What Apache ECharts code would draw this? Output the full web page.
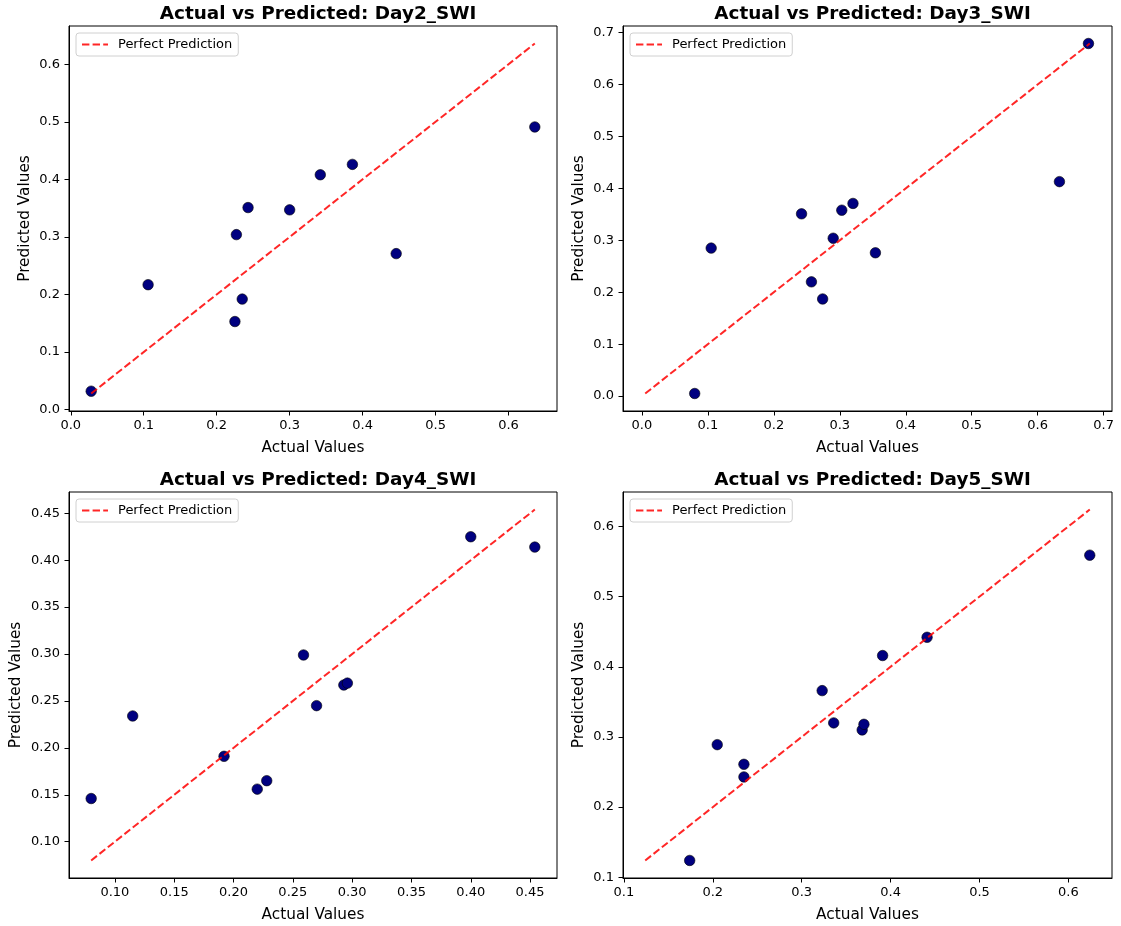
<!DOCTYPE html>
<html>
<head>
<meta charset="utf-8">
<script src="https://cdn.jsdelivr.net/npm/echarts@6/dist/echarts.min.js"></script>
<style>
html,body{margin:0;padding:0;background:#fff;}
#chart{width:1121px;height:926px;}
</style>
</head>
<body>
<div id="chart"></div>
<script>
// ---------- data ----------
const panelTitles = [
  'Actual vs Predicted: Day2_SWI',
  'Actual vs Predicted: Day3_SWI',
  'Actual vs Predicted: Day4_SWI',
  'Actual vs Predicted: Day5_SWI'
];
const legendLabel = 'Perfect Prediction';
const xAxisName = 'Actual Values';
const yAxisName = 'Predicted Values';

const day2Actual    = [0.028, 0.106, 0.225, 0.235, 0.227, 0.243, 0.300, 0.342, 0.386, 0.446, 0.636];
const day2Predicted = [0.032, 0.217, 0.153, 0.192, 0.304, 0.351, 0.347, 0.408, 0.426, 0.271, 0.491];

const day3Actual    = [0.080, 0.105, 0.242, 0.257, 0.274, 0.290, 0.303, 0.320, 0.354, 0.633, 0.677];
const day3Predicted = [0.005, 0.285, 0.351, 0.220, 0.187, 0.304, 0.358, 0.371, 0.276, 0.413, 0.679];

const day4Actual    = [0.080, 0.115, 0.192, 0.220, 0.228, 0.259, 0.270, 0.293, 0.296, 0.400, 0.454];
const day4Predicted = [0.146, 0.234, 0.191, 0.156, 0.165, 0.299, 0.245, 0.267, 0.269, 0.425, 0.414];

const day5Actual    = [0.174, 0.205, 0.235, 0.235, 0.323, 0.336, 0.368, 0.370, 0.391, 0.441, 0.624];
const day5Predicted = [0.124, 0.289, 0.261, 0.243, 0.366, 0.320, 0.310, 0.318, 0.416, 0.442, 0.559];

const day2Ticks = ['0.0', '0.1', '0.2', '0.3', '0.4', '0.5', '0.6'];
const day3Ticks = ['0.0', '0.1', '0.2', '0.3', '0.4', '0.5', '0.6', '0.7'];
const day4Ticks = ['0.10', '0.15', '0.20', '0.25', '0.30', '0.35', '0.40', '0.45'];
const day5Ticks = ['0.1', '0.2', '0.3', '0.4', '0.5', '0.6'];

// ---------- layout / style ----------
const FONT = 'DejaVu Sans';
const panels = [
  {actual: day2Actual, pred: day2Predicted, ticks: day2Ticks, grid: {left: 69,  top: 26,  width: 488, height: 385}, yGap: 36},
  {actual: day3Actual, pred: day3Predicted, ticks: day3Ticks, grid: {left: 623, top: 26,  width: 489, height: 385}, yGap: 36},
  {actual: day4Actual, pred: day4Predicted, ticks: day4Ticks, grid: {left: 69,  top: 492, width: 488, height: 386}, yGap: 45},
  {actual: day5Actual, pred: day5Predicted, ticks: day5Ticks, grid: {left: 623, top: 492, width: 489, height: 386}, yGap: 36}
];

const grids = [], xAxes = [], yAxes = [], series = [], titles = [], legends = [];

function axisCommon(ticks, lo, hi) {
  const vals = ticks.map(Number);
  return {
    type: 'value',
    min: lo,
    max: hi,
    splitLine: {show: false},
    axisLine: {show: true, onZero: false, lineStyle: {color: '#000', width: 1}},
    axisTick: {show: true, customValues: vals, length: 4.5, lineStyle: {color: '#000', width: 1}},
    axisLabel: {
      customValues: vals,
      color: '#000',
      fontFamily: FONT,
      fontSize: 13,
      formatter: function (v) {
        for (let i = 0; i < vals.length; i++) {
          if (Math.abs(vals[i] - v) < 1e-9) return ticks[i];
        }
        return '';
      }
    },
    nameLocation: 'middle',
    nameTextStyle: {color: '#000', fontFamily: FONT, fontSize: 15.3}
  };
}

panels.forEach(function (p, i) {
  const all = p.actual.concat(p.pred);
  const dmin = Math.min.apply(null, all);
  const dmax = Math.max.apply(null, all);
  const pad = (dmax - dmin) * 0.05;
  const lo = dmin - pad, hi = dmax + pad;

  grids.push(Object.assign({show: true, borderColor: '#000', borderWidth: 1, backgroundColor: '#fff'}, p.grid));

  const xa = axisCommon(p.ticks, lo, hi);
  xa.gridIndex = i;
  xa.position = 'bottom';
  xa.name = xAxisName;
  xa.nameGap = 30;
  xa.axisLabel.margin = 8;
  xAxes.push(xa);

  const ya = axisCommon(p.ticks, lo, hi);
  ya.gridIndex = i;
  ya.position = 'left';
  ya.name = yAxisName;
  ya.nameGap = p.yGap;
  ya.axisLabel.margin = 9;
  yAxes.push(ya);

  series.push({
    type: 'scatter',
    xAxisIndex: i,
    yAxisIndex: i,
    symbol: 'circle',
    symbolSize: 10.5,
    itemStyle: {color: '#000080', opacity: 1, borderColor: '#000', borderWidth: 0.6},
    data: p.actual.map(function (a, k) { return [a, p.pred[k]]; }),
    z: 2
  });

  series.push({
    type: 'line',
    name: legendLabel,
    xAxisIndex: i,
    yAxisIndex: i,
    symbol: 'none',
    legendIcon: 'none',
    lineStyle: {color: 'rgba(255,0,0,0.85)', width: 2, type: [7.4, 3.2]},
    itemStyle: {color: 'rgba(255,0,0,0.85)'},
    data: [[dmin, dmin], [dmax, dmax]],
    z: 3,
    silent: true
  });

  titles.push({
    text: panelTitles[i],
    left: p.grid.left + p.grid.width / 2,
    top: p.grid.top - 26,
    textAlign: 'center',
    textStyle: {fontFamily: FONT, fontWeight: 'bold', fontSize: 18.4, color: '#000'}
  });

  legends.push({
    data: [legendLabel],
    left: p.grid.left + 7,
    top: p.grid.top + 7,
    orient: 'vertical',
    padding: [5, 6, 5, 5],
    itemWidth: 26,
    itemHeight: 12,
    itemStyle: {opacity: 0},
    lineStyle: {color: 'rgba(255,0,0,0.85)', width: 2, type: [7.4, 3.2], opacity: 1},
    backgroundColor: 'rgba(255,255,255,0.8)',
    borderColor: '#d0d0d0',
    borderWidth: 1,
    borderRadius: 3,
    selectedMode: false,
    textStyle: {fontFamily: FONT, fontSize: 13, color: '#000', padding: [0, 0, 0, 5]}
  });
});

const chart = echarts.init(document.getElementById('chart'), null, {renderer: 'canvas'});
chart.setOption({
  animation: false,
  backgroundColor: '#fff',
  title: titles,
  legend: legends,
  grid: grids,
  xAxis: xAxes,
  yAxis: yAxes,
  series: series
});
</script>
</body>
</html>
